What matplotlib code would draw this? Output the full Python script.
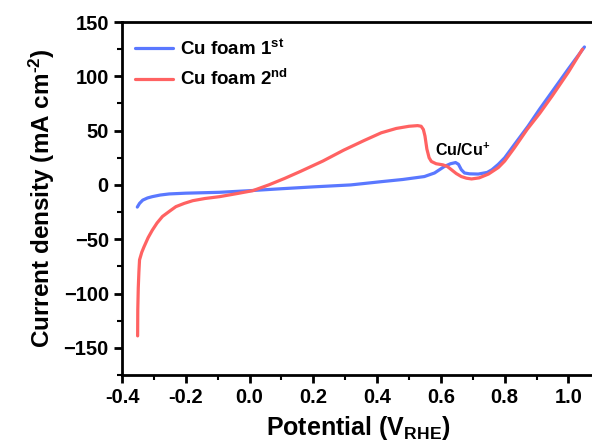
import numpy as np
from matplotlib import pyplot as plt
from matplotlib.ticker import MultipleLocator

plt.rcParams['font.family'] = ['Liberation Sans', 'DejaVu Sans']
plt.rcParams['font.weight'] = 'bold'
plt.rcParams['mathtext.fontset'] = 'custom'
plt.rcParams['mathtext.rm'] = 'Liberation Sans:bold'
plt.rcParams['mathtext.it'] = 'Liberation Sans:bold'
plt.rcParams['mathtext.bf'] = 'Liberation Sans:bold'

# 1st scan
v1 = [-0.352, -0.345, -0.335, -0.32, -0.305, -0.28, -0.252, -0.2, -0.094, 0.0,
      0.1, 0.2, 0.317, 0.413, 0.48, 0.548, 0.58, 0.611, 0.63, 0.646, 0.655,
      0.664, 0.674, 0.69, 0.717, 0.745, 0.76, 0.78, 0.80, 0.83, 0.873, 0.91,
      0.949, 1.0, 1.05]
j1 = [-20.4, -17, -14, -12, -10.8, -9.3, -8.3, -7.6, -6.8, -5.3,
      -3.5, -1.8, 0, 3, 5, 7.7, 11, 17, 19.5, 20.6, 19,
      14, 11, 10.2, 10, 11.5, 14, 19, 25, 37, 54, 70,
      86, 107, 127]

# 2nd scan
v2 = [-0.351, -0.3505, -0.349, -0.347, -0.345, -0.338, -0.331, -0.318, -0.305,
      -0.29, -0.273, -0.25, -0.231, -0.205, -0.178, -0.14, -0.094, -0.04, 0.01,
      0.06, 0.11, 0.16, 0.23, 0.295, 0.36, 0.413, 0.46, 0.5, 0.527, 0.538,
      0.545, 0.55, 0.556, 0.563, 0.57, 0.585, 0.606, 0.62, 0.633, 0.648,
      0.664, 0.68, 0.696, 0.72, 0.749, 0.78, 0.80, 0.83, 0.87, 0.91, 0.949,
      1.0, 1.044]
j2 = [-139, -115, -95, -80, -69, -62, -57, -48.5, -41.7,
      -35, -29, -24, -20, -17, -14.5, -12.5, -10.8, -8, -5.3,
      0, 6, 12.5, 22, 32, 41, 48, 52, 54, 54.6, 54,
      51, 45, 33, 25, 21.6, 19.5, 18.5, 17, 14, 10.5,
      7.7, 6.2, 5.5, 6.5, 10, 16, 22, 34, 51, 66, 82,
      104, 125]

fig = plt.figure(figsize=(5.92, 4.48), dpi=100)
ax = fig.add_axes([122/592, 73/448, (594-122)/592, (375-22)/448])
ax.plot(v1, j1, linewidth=2.3, color="#5a78ff", label="Cu foam 1$^{st}$",
        solid_joinstyle='round', solid_capstyle='round')
ax.plot(v2, j2, linewidth=2.3, color="#ff6262", label="Cu foam 2$^{nd}$",
        solid_joinstyle='round', solid_capstyle='round')

ax.text(0.583, 32, "Cu/Cu$^{+}$", fontsize=11.5, fontweight='bold', va='center', ha='left')

ax.set_xlim(-0.4, 1.08)
ax.set_ylim(-175, 150)
ax.xaxis.set_minor_locator(MultipleLocator(0.1))
ax.yaxis.set_minor_locator(MultipleLocator(25))
ax.set_xticks(np.arange(-0.4, 1.01, 0.2))
ax.set_xticklabels(["-0.4", "-0.2", "0.0", "0.2", "0.4", "0.6", "0.8", "1.0"])
ax.set_yticks([-150, -100, -50, 0, 50, 100, 150])
ax.tick_params(axis='both', which='major', direction='out', length=6, width=2, labelsize=14.5)
ax.tick_params(axis='both', which='minor', direction='out', length=3.5, width=1.5)
ax.tick_params(top=False, right=False, which='both')
for s in ax.spines.values():
    s.set_linewidth(2)
ax.spines['right'].set_visible(False)

ax.set_xlabel("Potential (V$_{RHE}$)", fontsize=18, fontweight='bold', labelpad=5)
ax.set_ylabel("Current density (mA cm$^{\\text{-2}}$)", fontsize=17.5, fontweight='bold', labelpad=5)

leg = ax.legend(loc='upper left', frameon=False, fontsize=13.5, handlelength=2.0,
                handletextpad=0.4, labelspacing=0.55, borderaxespad=0.3,
                bbox_to_anchor=(0.0, 0.99))

fig.savefig("out.png", dpi=100)
